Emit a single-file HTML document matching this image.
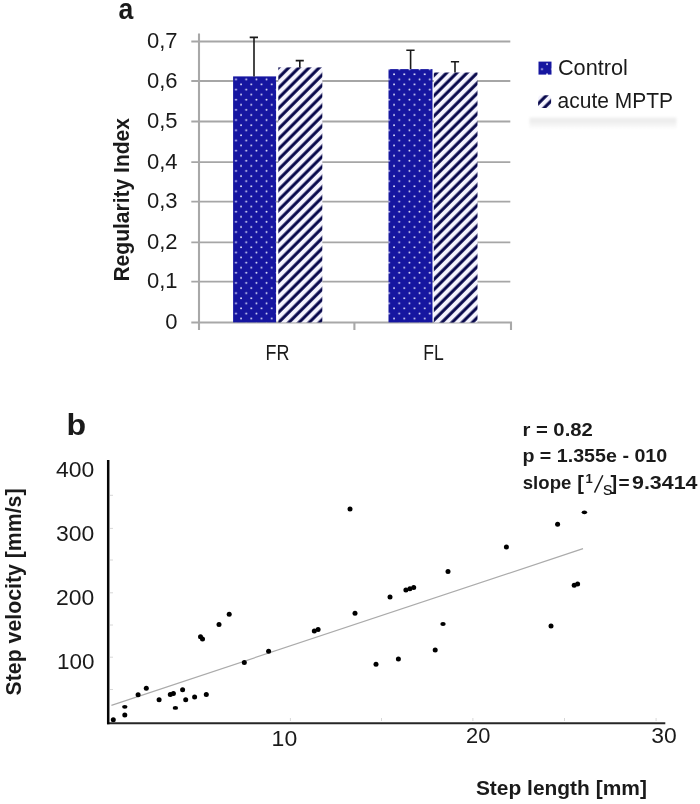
<!DOCTYPE html>
<html><head><meta charset="utf-8">
<style>
html,body{margin:0;padding:0;background:#fff;}
body{width:700px;height:804px;overflow:hidden;}
svg{display:block;will-change:transform;}
text{font-family:"Liberation Sans",sans-serif;fill:#1a1a1a;}
.b{font-weight:bold;}
</style></head>
<body>
<svg width="700" height="804" viewBox="0 0 700 804">
<defs>
  <pattern id="dots" patternUnits="userSpaceOnUse" x="0" y="0" width="10.2" height="10.18">
    <rect width="10.2" height="10.18" fill="#1616a0"/>
    <circle cx="1.4" cy="8.14" r="0.95" fill="#e8e8ff"/>
    <circle cx="6.5" cy="3.05" r="0.95" fill="#e8e8ff"/>
  </pattern>
  <pattern id="hatch" patternUnits="userSpaceOnUse" x="0" y="1.2" width="7.212" height="7.212" patternTransform="rotate(-45)">
    <rect width="7.212" height="7.212" fill="#f5f4fe"/>
    <rect x="0" y="4.0" width="7.212" height="3.04" fill="#06064a"/>
  </pattern>
  <linearGradient id="shadow" x1="0" y1="0" x2="0" y2="1">
    <stop offset="0" stop-color="#f6f6f6"/>
    <stop offset="0.3" stop-color="#ececec"/>
    <stop offset="1" stop-color="#ffffff"/>
  </linearGradient>
  <filter id="blur1" x="-10%" y="-50%" width="120%" height="200%"><feGaussianBlur stdDeviation="1.2"/></filter>
</defs>

<!-- ===== Chart a ===== -->
<text class="b" x="118.5" y="18.5" font-size="30" textLength="14.8" lengthAdjust="spacingAndGlyphs">a</text>

<!-- gridlines -->
<g stroke="#a6a6a6" stroke-width="1.8">
  <line x1="191.3" y1="41.5" x2="510.3" y2="41.5"/>
  <line x1="191.3" y1="81.0" x2="510.3" y2="81.0"/>
  <line x1="191.3" y1="121.5" x2="510.3" y2="121.5"/>
  <line x1="191.3" y1="162.2" x2="510.3" y2="162.2"/>
  <line x1="191.3" y1="201.6" x2="510.3" y2="201.6"/>
  <line x1="191.3" y1="242.4" x2="510.3" y2="242.4"/>
  <line x1="191.3" y1="281.6" x2="510.3" y2="281.6"/>
</g>
<g stroke="#a8a8a8" stroke-width="2.1" fill="none">
  <line x1="199" y1="33.5" x2="199" y2="330"/>
  <path d="M191.3 322.5 H511 V330"/>
  <line x1="354.4" y1="322.5" x2="354.4" y2="330"/>
</g>

<!-- y tick labels -->
<g font-size="22" text-anchor="end">
  <text x="177.6" y="48.1">0,7</text>
  <text x="177.6" y="87.6">0,6</text>
  <text x="177.6" y="128.1">0,5</text>
  <text x="177.6" y="168.8">0,4</text>
  <text x="177.6" y="208.2">0,3</text>
  <text x="177.6" y="249.0">0,2</text>
  <text x="177.6" y="288.2">0,1</text>
  <text x="177.6" y="329.1">0</text>
</g>

<!-- bars -->
<rect x="233.1" y="76.4" width="43" height="246" fill="url(#dots)"/>
<rect x="278.3" y="67.4" width="44" height="255" fill="url(#hatch)"/>
<rect x="388.5" y="69.1" width="44" height="253.3" fill="url(#dots)"/>
<rect x="433.8" y="72.5" width="43.7" height="250" fill="url(#hatch)"/>

<!-- error bars -->
<g stroke="#1a1a1a" stroke-width="1.6" fill="none">
  <path d="M254 76.4 V37.4 M249.7 37.4 H258"/>
  <path d="M299.8 67.4 V60.6 M295.7 60.6 H303.8"/>
  <path d="M410.6 69.1 V50.2 M406.3 50.2 H414.6"/>
  <path d="M455 72.5 V61.7 M450.9 61.7 H459.1"/>
</g>

<!-- category labels -->
<g font-size="22">
  <text x="265.6" y="359.8" textLength="23.9" lengthAdjust="spacingAndGlyphs">FR</text>
  <text x="423.2" y="359.8" textLength="20.5" lengthAdjust="spacingAndGlyphs">FL</text>
</g>

<!-- legend -->
<rect x="529.5" y="117" width="147" height="12.5" fill="url(#shadow)" filter="url(#blur1)"/>
<rect x="538.5" y="61.6" width="13" height="13" fill="url(#dots)"/>
<rect x="538.1" y="95.2" width="13" height="12.8" rx="3.5" fill="url(#hatch)"/>
<text x="557.9" y="74.6" font-size="21.5" textLength="70" lengthAdjust="spacingAndGlyphs">Control</text>
<text x="557.6" y="108.2" font-size="21.5" textLength="115.4" lengthAdjust="spacingAndGlyphs">acute MPTP</text>

<!-- y axis title -->
<text class="b" font-size="22" transform="translate(129.3 281.6) rotate(-90)" textLength="163.6" lengthAdjust="spacingAndGlyphs">Regularity Index</text>

<!-- ===== Chart b ===== -->
<text class="b" x="66.6" y="434.9" font-size="30" textLength="19.6" lengthAdjust="spacingAndGlyphs">b</text>

<g font-size="22" text-anchor="end">
  <text x="94.4" y="476.5" textLength="38.3" lengthAdjust="spacingAndGlyphs">400</text>
  <text x="94.4" y="540.7" textLength="38.3" lengthAdjust="spacingAndGlyphs">300</text>
  <text x="94.4" y="604.9" textLength="38.3" lengthAdjust="spacingAndGlyphs">200</text>
  <text x="94.4" y="669" textLength="37.5" lengthAdjust="spacingAndGlyphs">100</text>
</g>
<g font-size="22">
  <text x="271.6" y="745.5" textLength="25.6" lengthAdjust="spacingAndGlyphs">10</text>
  <text x="466" y="742.8" textLength="24.3" lengthAdjust="spacingAndGlyphs">20</text>
  <text x="651.2" y="742.6" textLength="25.5" lengthAdjust="spacingAndGlyphs">30</text>
</g>

<!-- regression line -->
<line x1="111.4" y1="705.4" x2="583" y2="548.6" stroke="#ababab" stroke-width="1.2"/>

<!-- points -->
<g fill="#000">
  <circle cx="113.3" cy="719.7" r="2.5"/>
  <circle cx="124.8" cy="714.9" r="2.5"/>
  <circle cx="138.1" cy="694.7" r="2.5"/>
  <circle cx="146.3" cy="688.3" r="2.5"/>
  <circle cx="159.1" cy="699.7" r="2.5"/>
  <circle cx="170.3" cy="694.5" r="2.5"/>
  <circle cx="173.4" cy="693.5" r="2.5"/>
  <circle cx="182.6" cy="689.7" r="2.5"/>
  <circle cx="185.7" cy="699.7" r="2.5"/>
  <circle cx="194.6" cy="696.9" r="2.5"/>
  <circle cx="206.3" cy="694.4" r="2.5"/>
  <circle cx="200.5" cy="636.8" r="2.5"/>
  <circle cx="202.5" cy="638.9" r="2.5"/>
  <circle cx="219" cy="624.6" r="2.5"/>
  <circle cx="229.2" cy="614.3" r="2.5"/>
  <circle cx="244.3" cy="662.5" r="2.5"/>
  <circle cx="268.6" cy="651.2" r="2.5"/>
  <circle cx="314.3" cy="631" r="2.5"/>
  <circle cx="318.1" cy="629.4" r="2.5"/>
  <circle cx="350" cy="509" r="2.5"/>
  <circle cx="355" cy="613.2" r="2.5"/>
  <circle cx="376" cy="664.2" r="2.5"/>
  <circle cx="390" cy="597" r="2.5"/>
  <circle cx="398.4" cy="659" r="2.5"/>
  <circle cx="405.9" cy="590" r="2.5"/>
  <circle cx="409.9" cy="588.8" r="2.5"/>
  <circle cx="413.7" cy="587.6" r="2.5"/>
  <circle cx="435.2" cy="650" r="2.5"/>
  <circle cx="448" cy="571.4" r="2.5"/>
  <circle cx="506.4" cy="547" r="2.5"/>
  <circle cx="551" cy="626" r="2.5"/>
  <circle cx="557.6" cy="524.2" r="2.5"/>
  <circle cx="574.2" cy="585.2" r="2.5"/>
  <circle cx="577.6" cy="584" r="2.5"/>
  <ellipse cx="124.8" cy="706.8" rx="2.7" ry="1.9"/>
  <ellipse cx="175.4" cy="707.9" rx="2.7" ry="1.9"/>
  <ellipse cx="443" cy="624" rx="2.7" ry="1.9"/>
  <ellipse cx="584.4" cy="512.3" rx="2.7" ry="1.9"/>
</g>

<!-- axes -->
<line x1="107" y1="723.2" x2="665.3" y2="723.2" stroke="#262626" stroke-width="2.1"/>
<line x1="108.2" y1="460.1" x2="108.2" y2="724.2" stroke="#050505" stroke-width="2.5"/>
<!-- faint minor ticks -->
<g stroke="#d8d8d8" stroke-width="1">
  <line x1="290.4" y1="718" x2="290.4" y2="721"/>
  <line x1="381.5" y1="718" x2="381.5" y2="721"/>
  <line x1="472.9" y1="718" x2="472.9" y2="721"/>
  <line x1="564.5" y1="718" x2="564.5" y2="721"/>
  <line x1="656.1" y1="718" x2="656.1" y2="721"/>
  <line x1="110" y1="495.3" x2="113" y2="495.3"/>
  <line x1="110" y1="528.4" x2="113" y2="528.4"/>
  <line x1="110" y1="560" x2="113" y2="560"/>
  <line x1="110" y1="592.8" x2="113" y2="592.8"/>
  <line x1="110" y1="625" x2="113" y2="625"/>
  <line x1="110" y1="657.2" x2="113" y2="657.2"/>
  <line x1="110" y1="689.5" x2="113" y2="689.5"/>
</g>

<!-- annotations -->
<g class="b" font-size="19" font-weight="bold">
  <text x="522.4" y="436.2" textLength="70.4" lengthAdjust="spacingAndGlyphs">r = 0.82</text>
  <text x="522.4" y="461.9" textLength="144.8" lengthAdjust="spacingAndGlyphs">p = 1.355e - 010</text>
  <text x="522.8" y="489.3" textLength="48.5" lengthAdjust="spacingAndGlyphs">slope</text>
  <text x="577.3" y="489.6" font-size="20">[</text>
  <text x="585.4" y="483" font-size="13">1</text>
  <text x="603" y="495.2" font-weight="normal">s</text>
  <text x="610.6" y="489.6" font-size="20">]</text>
  <text x="618.4" y="489.3">=</text>
  <text x="632" y="489.3" textLength="65.5" lengthAdjust="spacingAndGlyphs">9.3414</text>
</g>
<line x1="594.5" y1="492.6" x2="602.8" y2="475.2" stroke="#1a1a1a" stroke-width="1.5"/>

<!-- axis titles -->
<text class="b" font-size="21.5" transform="translate(21.4 695.4) rotate(-90)" textLength="206.9" lengthAdjust="spacingAndGlyphs">Step velocity [mm/s]</text>
<text class="b" x="475.9" y="795.4" font-size="20.3" textLength="171" lengthAdjust="spacingAndGlyphs">Step length [mm]</text>
</svg>
</body></html>
